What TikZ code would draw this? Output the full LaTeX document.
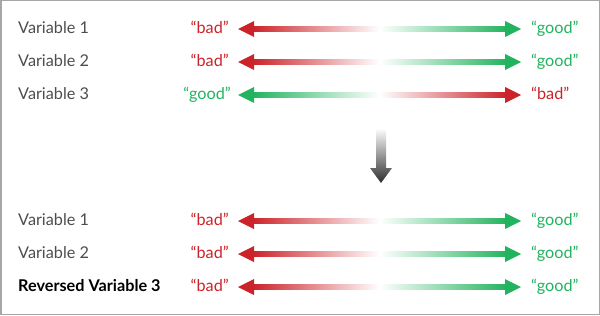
\documentclass[tikz,border=0pt]{standalone}
\usepackage{fontspec}
\setmainfont{Lato}
\usetikzlibrary{calc}
\definecolor{scorered}{HTML}{CC2229}
\definecolor{scoregreen}{HTML}{22B35E}
\definecolor{scoretext}{HTML}{4D4D4D}
\definecolor{scoreframe}{HTML}{A6A6A6}
\definecolor{scoredark}{HTML}{2E2E2E}
\tikzset{
  varname/.style={anchor=west,font=\fontsize{16.3}{18}\selectfont,text=scoretext,inner sep=0pt,text height=11.5bp,text depth=3.5bp},
  boldname/.style={varname,text=black,font=\fontsize{16.3}{18}\selectfont\bfseries},
  badword/.style={font=\fontsize{16.3}{18}\selectfont,text=scorered,inner sep=0pt,text height=11.5bp,text depth=3.5bp},
  goodword/.style={font=\fontsize{16.3}{18}\selectfont,text=scoregreen,inner sep=0pt,text height=11.5bp,text depth=3.5bp}
}
% shaded double arrow between two coordinates
\newcommand{\fadearrow}[4]{%
  \shade[left color=#3,right color=#4,middle color=white]
    ($(#1)+(14,2.8)$) rectangle ($(#2)+(-14,-2.8)$);
  \fill[#3] (#1) -- ++(16,8) -- ++(0,-16) -- cycle;
  \fill[#4] (#2) -- ++(-16,8) -- ++(0,-16) -- cycle;
}
\begin{document}
\begin{tikzpicture}[x=1bp,y=1bp]
  \useasboundingbox (0,0) rectangle (600,315);
  \draw[scoreframe,line width=1.5bp] (0.75,0.75) rectangle (599.25,314.25);
  % original variables
  \node[varname] (v1) at (18,286) {Variable 1};
  \node[varname] (v2) at (18,253) {Variable 2};
  \node[varname] (v3) at (18,220) {Variable 3};
  \node[badword,anchor=east] (l1) at (229,286) {“bad”};
  \node[badword,anchor=east] (l2) at (229,253) {“bad”};
  \node[goodword,anchor=east] (l3) at (231,220) {“good”};
  \node[goodword,anchor=west] (r1) at (531,286) {“good”};
  \node[goodword,anchor=west] (r2) at (531,253) {“good”};
  \node[badword,anchor=west] (r3) at (531,220) {“bad”};
  \coordinate (s1) at (238,286); \coordinate (e1) at (521,286);
  \coordinate (s2) at (238,253); \coordinate (e2) at (521,253);
  \coordinate (s3) at (238,220); \coordinate (e3) at (521,220);
  \fadearrow{s1}{e1}{scorered}{scoregreen}
  \fadearrow{s2}{e2}{scorered}{scoregreen}
  \fadearrow{s3}{e3}{scoregreen}{scorered}
  % step down
  \coordinate (down) at (381,132);
  \shade[top color=white,bottom color=scoredark]
    (376,187) -- (386,187) -- (386,147) -- (392,147) -- (down)
    -- (370,147) -- (376,147) -- cycle;
  % after reversing
  \node[varname] (w1) at (18,94) {Variable 1};
  \node[varname] (w2) at (18,61) {Variable 2};
  \node[boldname] (w3) at (18,28) {Reversed Variable 3};
  \foreach \i/\y in {1/94,2/61,3/28} {
    \node[badword,anchor=east] (m\i) at (229,\y) {“bad”};
    \node[goodword,anchor=west] (n\i) at (531,\y) {“good”};
    \coordinate (p\i) at (238,\y);
    \coordinate (q\i) at (521,\y);
    \fadearrow{p\i}{q\i}{scorered}{scoregreen}
  }
\end{tikzpicture}
\end{document}
